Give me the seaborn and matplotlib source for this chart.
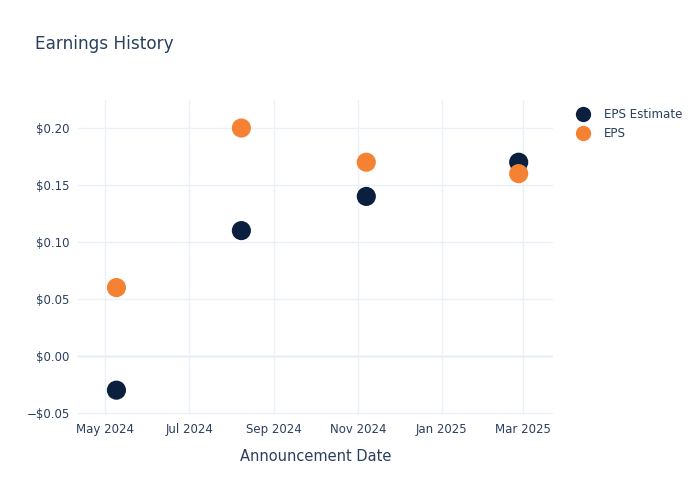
import matplotlib
matplotlib.use('Agg')
import matplotlib.pyplot as plt
import matplotlib.dates as mdates
from matplotlib.ticker import FuncFormatter, MultipleLocator
import seaborn as sns
import pandas as pd

# Data
dates = ['2024-05-09', '2024-08-08', '2024-11-07', '2025-02-26']
eps_estimate = [-0.03, 0.11, 0.14, 0.17]
eps_actual = [0.06, 0.20, 0.17, 0.16]
series_names = ['EPS Estimate', 'EPS']

TEXT = '#2a3f5f'
GRID = '#ebf0f8'
palette = {'EPS Estimate': '#0b1f3f', 'EPS': '#f58233'}

df = pd.DataFrame({
    'date': pd.to_datetime(dates * 2),
    'value': eps_estimate + eps_actual,
    'series': [series_names[0]] * len(dates) + [series_names[1]] * len(dates),
})

sns.set_style('white')
plt.rcParams['font.family'] = ['DejaVu Sans']

fig = plt.figure(figsize=(7, 5), dpi=100)
ax = fig.add_axes([78 / 700, 1 - 415 / 500, (553 - 78) / 700, (415 - 100) / 500])

sns.scatterplot(data=df, x='date', y='value', hue='series', palette=palette,
                s=190, linewidth=0, alpha=1, ax=ax, legend=False, zorder=3)

ax.set_xlim(pd.Timestamp('2024-04-11'), pd.Timestamp('2025-03-23'))
ax.set_ylim(-0.0518, 0.2246)

ax.xaxis.set_major_locator(mdates.MonthLocator(bymonth=[1, 3, 5, 7, 9, 11]))
ax.xaxis.set_major_formatter(mdates.DateFormatter('%b %Y'))
ax.yaxis.set_major_locator(MultipleLocator(0.05))


def money(v, pos):
    v = round(v, 4)
    if v < 0:
        return '\u2212$%.2f' % abs(v)
    return '$%.2f' % v


ax.yaxis.set_major_formatter(FuncFormatter(money))

ax.grid(True, color=GRID, linewidth=1, zorder=0)
ax.axhline(0, color=GRID, linewidth=1.8, zorder=1)
for s in ax.spines.values():
    s.set_visible(False)
ax.tick_params(length=0, labelsize=8.5, colors=TEXT, pad=6)

ax.set_xlabel('Announcement Date', fontsize=10.5, color=TEXT, labelpad=9)
ax.set_ylabel('')

fig.text(35 / 700, 1 - 44 / 500, 'Earnings History', fontsize=12.2, color=TEXT,
         va='center', ha='left')

# legend
handles = [plt.Line2D([], [], marker='o', linestyle='', markersize=11,
                      markerfacecolor=palette[n], markeredgewidth=0)
           for n in series_names]
leg = fig.legend(handles, series_names, loc='upper left',
                 bbox_to_anchor=(569 / 700, 1 - 103 / 500), frameon=False,
                 fontsize=8.6, handletextpad=1.0, labelspacing=0.5,
                 borderaxespad=0, handlelength=1.5)
for t in leg.get_texts():
    t.set_color(TEXT)

fig.savefig('out.png', dpi=100)
